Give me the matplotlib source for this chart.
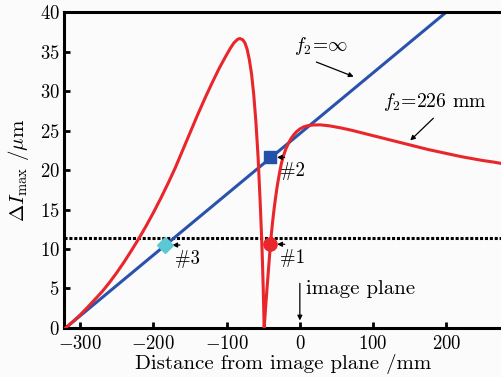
import numpy as np
import matplotlib
matplotlib.use("Agg")
import matplotlib.pyplot as plt

plt.rcParams["font.family"] = ["cmr10", "DejaVu Serif"]
plt.rcParams["mathtext.fontset"] = "cm"
plt.rcParams["axes.formatter.use_mathtext"] = True

# f2 = infinity : straight line
blue_x = [-320, 200]
blue_y = [0, 40]

# f2 = 226 mm curve
red_x = [-320, -310, -300, -290, -280, -270, -260, -250, -240, -230, -220,
         -210, -200, -190, -180, -170, -160, -150, -140, -130, -120, -110,
         -100, -95, -90, -85, -82, -78, -75, -72, -69, -66, -63, -60, -57,
         -54, -52, -51, -50, -49.5, -48.7,
         -47, -45, -43, -41, -39, -37, -35, -33, -31, -29, -27, -25, -22,
         -19, -16, -12, -8, -4, 0, 5, 10, 18, 28, 40, 55, 70, 85, 100, 115,
         130, 145, 160, 175, 190, 205, 220, 235, 250, 265, 277]
red_y = [0, 0.8, 1.65, 2.6, 3.6, 4.6, 5.75, 7.0, 8.35, 9.8, 11.3,
         12.9, 14.6, 16.4, 18.3, 20.3, 22.5, 24.7, 26.9, 29.0, 31.0, 32.9,
         34.6, 35.4, 36.1, 36.55, 36.65, 36.5, 36.1, 35.3, 34.0, 32.2, 29.6, 26.1, 21.6,
         15.6, 11.0, 8.2, 5.0, 3.0, 0,
         2.3, 4.8, 7.2, 9.6, 11.8, 13.6, 15.2, 16.6, 17.9, 19.0, 20.0, 20.9, 21.9,
         22.7, 23.3, 24.0, 24.5, 24.9, 25.2, 25.45, 25.6, 25.7, 25.72, 25.6, 25.35, 25.05, 24.7, 24.35, 24.0,
         23.65, 23.3, 22.95, 22.6, 22.3, 22.0, 21.7, 21.45, 21.2, 21.0, 20.8]

threshold = 11.4

# marked points #1, #2, #3
pts_x = [-40.8, -41, -184]
pts_y = [10.6, 21.6, 10.5]
pts_lab = ["#1", "#2", "#3"]

fig = plt.figure(figsize=(5.02, 3.77), dpi=100, facecolor="#fbfbfb")
ax = fig.add_axes([0.1275, 0.13, 0.8725, 0.838])
ax.set_facecolor("#fbfbfb")

ax.axhline(threshold, color="black", lw=2.2, ls=(0, (1, 0.6)), zorder=1)
ax.plot(blue_x, blue_y, color="#2a52ad", lw=2.2, zorder=2)
ax.plot(red_x, red_y, color="#e8262b", lw=2.2, zorder=3)

ax.plot(pts_x[0], pts_y[0], "o", color="#e8262b", ms=9.5, zorder=4)
ax.plot(pts_x[1], pts_y[1], "s", color="#2350a8", ms=9, zorder=4)
ax.plot(pts_x[2], pts_y[2], "D", color="#5cc8d2", ms=8, zorder=4)

arr = dict(arrowstyle="-|>", color="black", lw=0.9, mutation_scale=7)
for px, py, lab in zip(pts_x, pts_y, pts_lab):
    ax.annotate("", xy=(px + 6, py), xytext=(px + 24, py), arrowprops=arr)
    ax.text(px + 14, py - 0.6, lab, fontsize=13.5, ha="left", va="top")

ax.annotate("", xy=(77, 31.7), xytext=(19, 33.8), arrowprops=arr)
ax.text(-8, 34.3, r"$f_2\!=\!\infty$", fontsize=14, ha="left", va="bottom")

ax.annotate("", xy=(148, 23.5), xytext=(185, 26.8), arrowprops=arr)
ax.text(113, 27.2, r"$f_2$=226 mm", fontsize=14.2, ha="left", va="bottom")

ax.annotate("", xy=(0, 0.6), xytext=(0, 6.0), arrowprops=arr)
ax.text(9, 4.9, "image plane", fontsize=15, ha="left", va="center")

ax.set_xlim(-322, 276)
ax.set_ylim(0, 40)
ax.set_xticks([-300, -200, -100, 0, 100, 200])
ax.set_yticks(range(0, 41, 5))
ax.tick_params(direction="in", length=4, width=2, labelsize=13.5)
ax.tick_params(axis="x", pad=5)
ax.tick_params(axis="y", pad=3)
for s in ["left", "bottom", "top"]:
    ax.spines[s].set_linewidth(2.2)
ax.spines["right"].set_visible(False)

ax.set_xlabel("Distance from image plane /mm", fontsize=15, labelpad=1)
ax.set_ylabel(r"$\Delta I_{\rm max}\ /\mu{\rm m}$", fontsize=15, labelpad=6)

fig.savefig("out.png", dpi=100, facecolor=fig.get_facecolor())
